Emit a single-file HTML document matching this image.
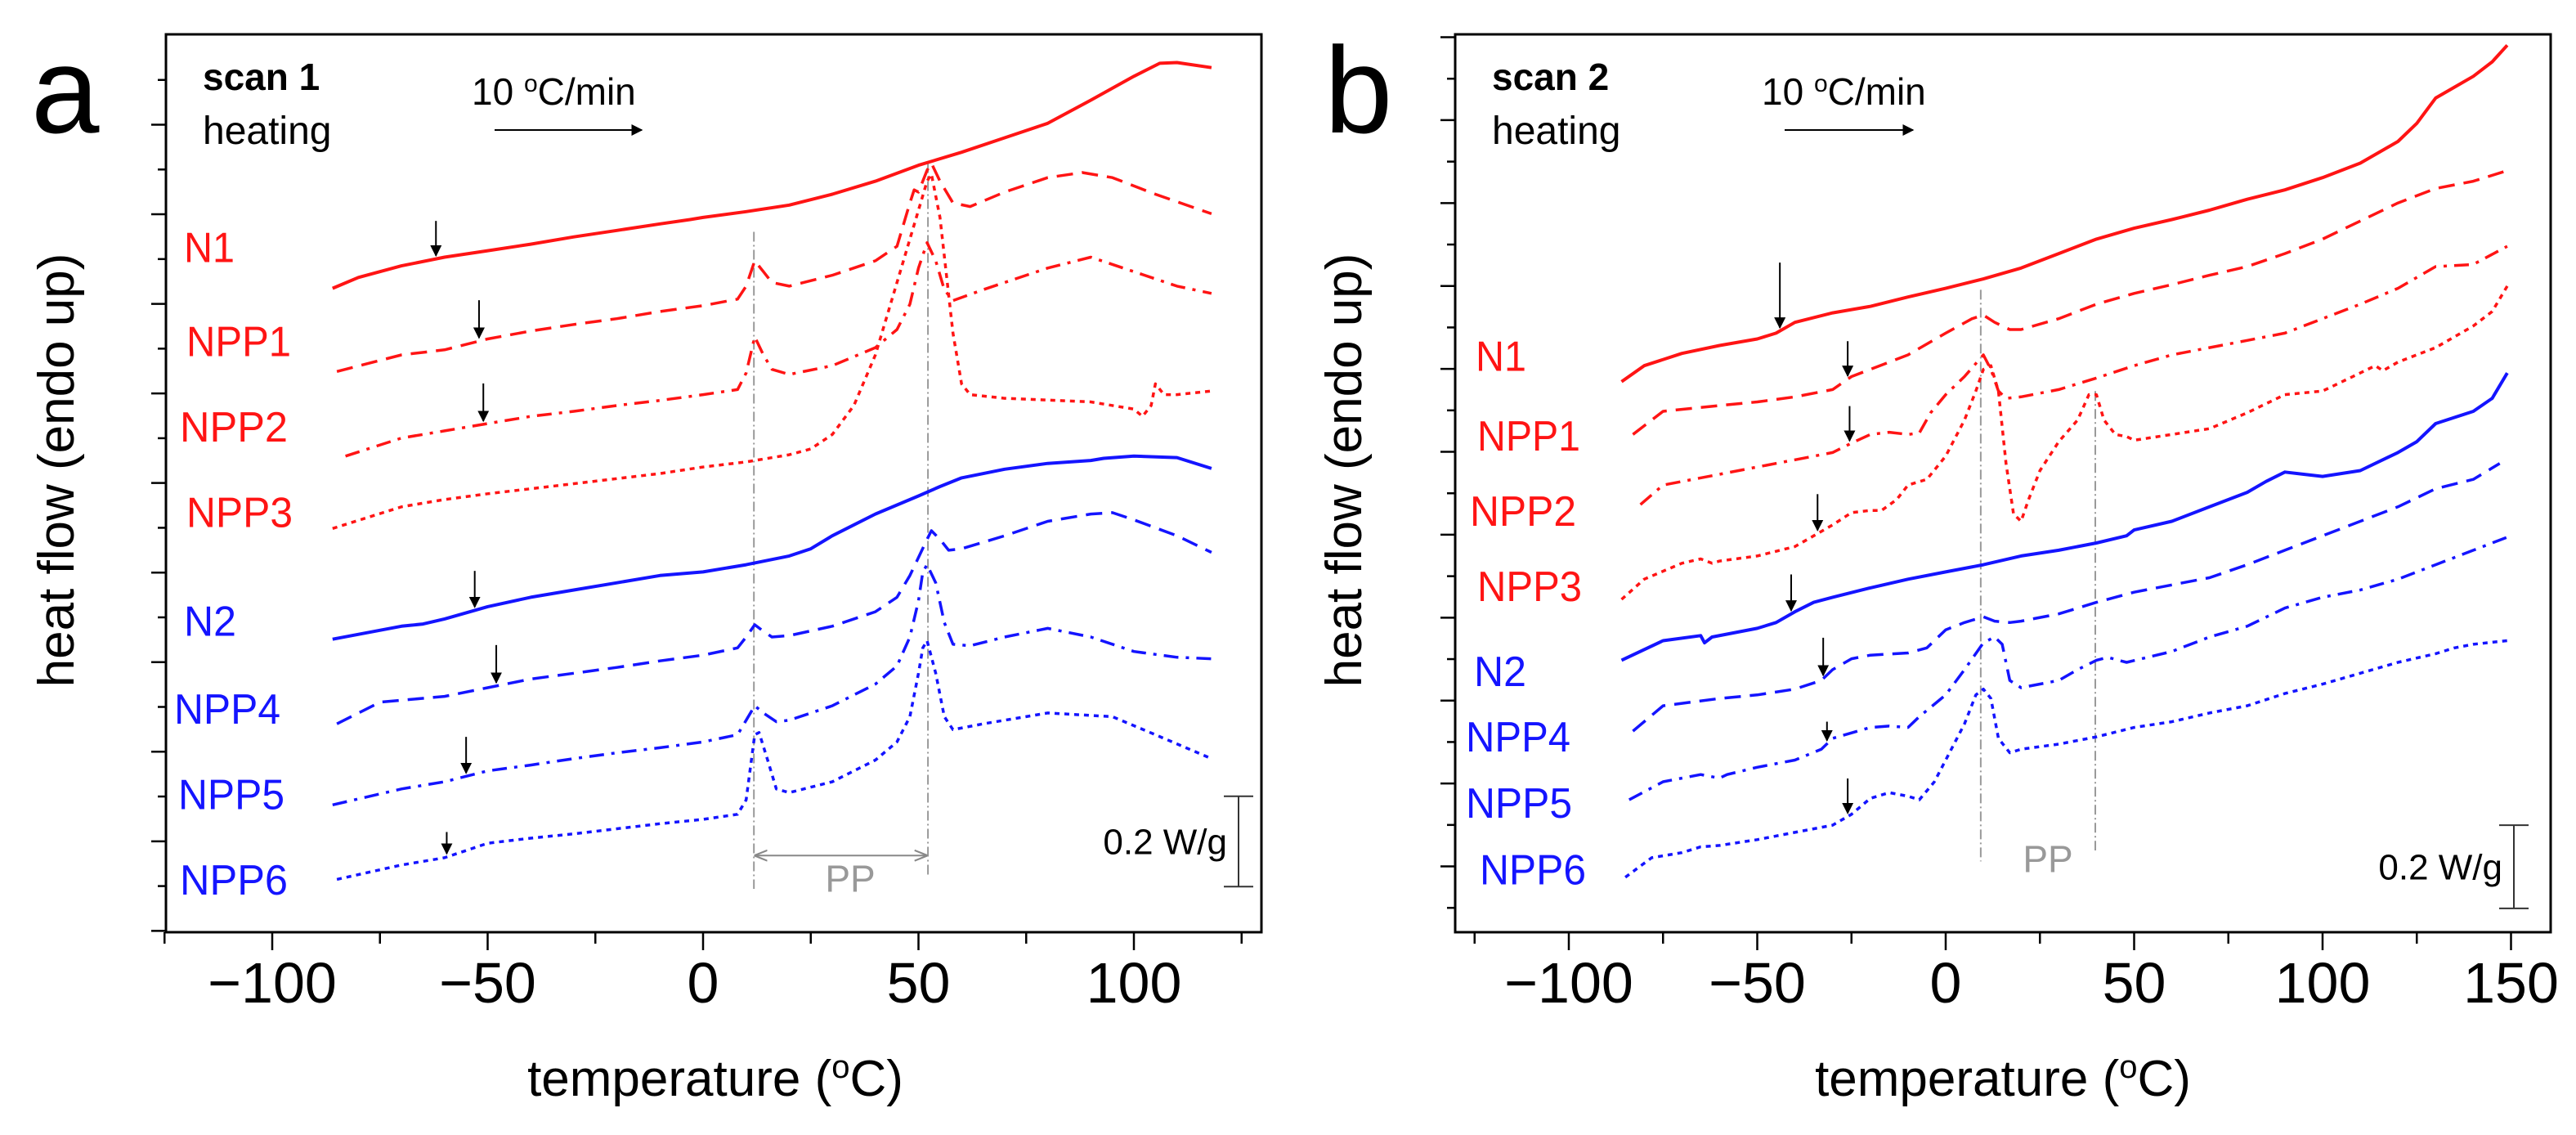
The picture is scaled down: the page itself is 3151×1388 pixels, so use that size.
<!DOCTYPE html>
<html><head><meta charset="utf-8"><style>
html,body{margin:0;padding:0;background:#fff;overflow:hidden;}
svg{display:block;font-family:"Liberation Sans",Arial,sans-serif;}
</style></head><body>
<svg id="chart" width="3151" height="1388" viewBox="0 0 3151 1388" xmlns="http://www.w3.org/2000/svg">
<defs>
<marker id="ah" viewBox="0 0 10 10" refX="9" refY="5" markerWidth="7" markerHeight="7" orient="auto-start-reverse"><path d="M0,0 L10,5 L0,10 z" fill="#000"/></marker>
<marker id="ahg" viewBox="0 0 10 10" refX="9" refY="5" markerWidth="8" markerHeight="8" orient="auto-start-reverse"><path d="M0,1 L10,5 L0,9" fill="none" stroke="#888" stroke-width="1.3"/></marker>
</defs>
<g id="pa"></g>
<g id="pb" transform="translate(1575,0)"></g>
</svg>
<script>
// ---------- Panel a data (scan 1) ----------
const aN1T=[-86,-80,-70,-60,-50,-40,-30,-20,-10,-3,0,10,20,30,40,50,60,70,80,90,100,106,110,118];
const aN1V=[8.90,9.05,9.21,9.33,9.42,9.51,9.61,9.70,9.79,9.85,9.88,9.96,10.05,10.20,10.38,10.60,10.78,10.98,11.18,11.50,11.83,12.01,12.02,11.95];
const aNPP1T=[-85,-70,-60,-50,-40,-30,-20,-10,0,8,10,12,14,16,20,30,40,45,48,49,50,52,53,55,58,62,70,80,88,95,105,118];
const aNPP1V=[7.75,7.98,8.05,8.20,8.31,8.40,8.48,8.58,8.66,8.75,8.93,9.28,9.13,8.98,8.93,9.08,9.28,9.48,10.08,10.26,10.23,10.53,10.63,10.38,10.08,10.03,10.23,10.43,10.50,10.43,10.20,9.93];
const aNPP2T=[-83,-70,-60,-50,-40,-30,-20,-10,0,8,10,12,14,16,20,30,40,45,48,50,52,54,56,58,65,80,90,100,110,118];
const aNPP2V=[6.58,6.83,6.93,7.03,7.13,7.20,7.28,7.35,7.43,7.50,7.73,8.23,7.98,7.78,7.71,7.83,8.08,8.33,8.68,9.18,9.53,9.28,8.88,8.73,8.88,9.18,9.33,9.13,8.93,8.83];
const aNPP3T=[-86,-70,-60,-50,-40,-30,-20,-10,0,10,20,25,30,35,40,45,48,50,52,53,55,58,60,62,70,90,100,102,104,105,107,110,118];
const aNPP3V=[5.58,5.88,5.98,6.06,6.13,6.20,6.27,6.34,6.43,6.50,6.60,6.68,6.88,7.28,7.98,8.98,9.58,9.98,10.38,10.48,9.88,8.28,7.58,7.43,7.38,7.33,7.23,7.13,7.28,7.58,7.43,7.43,7.48];
const aN2T=[-86,-70,-65,-60,-50,-40,-30,-20,-10,0,10,20,25,30,40,50,55,60,70,80,90,93,100,110,118];
const aN2V=[4.05,4.23,4.26,4.33,4.50,4.63,4.73,4.83,4.93,4.98,5.08,5.20,5.30,5.48,5.78,6.03,6.16,6.28,6.40,6.48,6.52,6.55,6.58,6.56,6.41];
const aNPP4T=[-85,-75,-60,-50,-40,-30,-20,-10,0,8,10,12,14,16,20,30,40,45,48,50,52,53,55,57,60,70,80,90,95,100,110,118];
const aNPP4V=[2.88,3.18,3.26,3.38,3.50,3.58,3.66,3.75,3.83,3.93,4.08,4.25,4.16,4.08,4.10,4.23,4.43,4.63,4.93,5.18,5.43,5.55,5.43,5.28,5.30,5.48,5.68,5.78,5.80,5.70,5.48,5.25];
const aNPP5T=[-86,-70,-60,-50,-40,-30,-20,-10,0,8,10,12,14,17,20,30,40,45,48,50,51,52,54,56,58,62,70,80,90,100,110,118];
const aNPP5V=[1.76,1.98,2.08,2.23,2.31,2.40,2.48,2.55,2.63,2.73,2.93,3.13,3.03,2.91,2.93,3.13,3.43,3.68,4.08,4.58,4.98,5.08,4.83,4.28,3.98,3.96,4.08,4.20,4.08,3.88,3.80,3.78];
const aNPP6T=[-85,-70,-60,-55,-50,-40,-30,-20,-10,0,8,10,12,13,15,17,20,30,40,45,48,50,51,52,54,56,58,65,80,95,105,118];
const aNPP6V=[0.73,0.93,1.03,1.13,1.23,1.30,1.36,1.43,1.50,1.56,1.63,1.83,2.73,2.76,2.38,1.98,1.93,2.08,2.38,2.63,2.98,3.58,3.93,4.03,3.58,2.98,2.80,2.88,3.03,2.98,2.73,2.40];
// ---------- Panel b data (scan 2) ----------
const bN1T=[-86,-80,-70,-60,-50,-45,-40,-30,-20,-10,0,10,20,30,40,50,60,70,80,90,100,110,120,125,130,135,140,145,149];
const bN1V=[7.61,7.83,8.00,8.11,8.20,8.28,8.43,8.56,8.65,8.78,8.90,9.03,9.18,9.38,9.58,9.73,9.85,9.98,10.13,10.26,10.43,10.63,10.93,11.18,11.53,11.68,11.83,12.03,12.26];
const bNPP1T=[-83,-75,-60,-50,-40,-30,-25,-20,-10,0,7,10,13,17,20,30,40,50,60,70,80,90,100,110,120,130,140,148];
const bNPP1V=[6.88,7.20,7.28,7.33,7.40,7.50,7.68,7.78,7.98,8.28,8.48,8.53,8.43,8.33,8.33,8.48,8.68,8.83,8.95,9.08,9.20,9.38,9.58,9.83,10.08,10.28,10.38,10.51];
const bNPP2T=[-81,-75,-60,-50,-40,-30,-25,-20,-15,-10,-7,-4,0,5,10,12,14,16,20,30,40,50,60,70,80,90,100,110,120,130,140,149];
const bNPP2V=[5.91,6.18,6.33,6.43,6.53,6.63,6.76,6.88,6.91,6.88,6.90,7.18,7.43,7.68,7.98,7.78,7.48,7.38,7.40,7.50,7.66,7.83,7.98,8.08,8.18,8.28,8.48,8.68,8.90,9.20,9.23,9.48];
const bNPP3T=[-86,-80,-70,-65,-62,-60,-50,-40,-35,-30,-25,-20,-17,-13,-10,-5,0,5,8,10,12,14,16,18,20,22,25,30,35,38,40,42,45,48,50,60,70,80,90,100,110,114,116,120,130,140,145,149];
const bNPP3V=[4.60,4.88,5.10,5.16,5.10,5.13,5.20,5.33,5.48,5.63,5.80,5.83,5.83,5.98,6.18,6.26,6.58,7.08,7.48,7.78,7.83,7.48,6.48,5.78,5.68,5.98,6.38,6.78,7.08,7.43,7.43,7.08,6.88,6.85,6.80,6.88,6.96,7.18,7.43,7.48,7.73,7.83,7.76,7.88,8.08,8.38,8.58,8.93];
const bN2T=[-86,-75,-65,-64,-62,-50,-45,-40,-35,-30,-20,-10,0,10,20,30,40,48,50,60,70,80,85,90,95,100,110,120,125,130,140,145,149];
const bN2V=[3.76,4.03,4.10,4.00,4.08,4.20,4.28,4.43,4.56,4.63,4.76,4.88,4.98,5.08,5.20,5.28,5.38,5.48,5.56,5.68,5.88,6.08,6.23,6.36,6.33,6.30,6.38,6.63,6.78,7.03,7.20,7.38,7.73];
const bNPP4T=[-83,-75,-60,-50,-40,-33,-30,-25,-20,-10,-5,0,5,10,13,17,20,30,40,50,60,70,80,90,100,110,120,130,140,147];
const bNPP4V=[2.78,3.13,3.23,3.28,3.36,3.48,3.63,3.78,3.83,3.86,3.93,4.18,4.28,4.36,4.30,4.28,4.30,4.40,4.56,4.70,4.80,4.90,5.08,5.28,5.48,5.68,5.88,6.13,6.26,6.48];
const bNPP5T=[-84,-75,-65,-60,-58,-50,-40,-33,-30,-20,-15,-10,-7,0,5,10,13,15,17,20,30,35,40,43,48,60,70,80,90,100,110,120,130,140,149];
const bNPP5V=[1.83,2.08,2.18,2.13,2.18,2.28,2.38,2.53,2.68,2.83,2.85,2.83,2.98,3.28,3.63,4.00,4.08,3.98,3.48,3.38,3.48,3.63,3.76,3.80,3.73,3.88,4.08,4.23,4.48,4.63,4.73,4.88,5.08,5.28,5.46];
const bNPP6T=[-85,-78,-70,-65,-60,-50,-40,-30,-25,-20,-15,-10,-7,-3,0,5,8,10,12,14,17,20,30,40,50,60,70,80,90,100,110,120,130,135,140,149];
const bNPP6V=[0.76,1.03,1.10,1.18,1.20,1.28,1.38,1.48,1.63,1.85,1.93,1.88,1.83,2.08,2.38,2.88,3.28,3.36,3.23,2.68,2.48,2.53,2.60,2.70,2.83,2.91,3.03,3.13,3.30,3.43,3.58,3.73,3.85,3.93,3.98,4.03];
// tick labels
const xTickLabelsA=[-100,-50,0,50,100];
const xTickLabelsB=[-100,-50,0,50,100,150];
const sampleNames=["N1","NPP1","NPP2","NPP3","N2","NPP4","NPP5","NPP6"];
// glass-transition arrow temperatures and PP melting lines
const aArrowT=[-62,-52,-51,-53,-48,-55,-59.5];
const bArrowT=[-44,-26,-25.5,-34,-41,-32.5,-31.5,-26];
const aPPT=[11.8,52.2];
const bPPT=[9.3,39.7];

const NS="http://www.w3.org/2000/svg";
const RED="#ff1414", BLUE="#1414ff";
const DASH={solid:null,dash:"20,11",dashdot:"18,9,4,9",dot:"6,6"};
const KY=0.8848;
function Y(z){return 42+KY*(z-47);}          // layout helper (vertical calibration)
function mk(parent,tag,attrs){const e=document.createElementNS(NS,tag);for(const k in attrs)e.setAttribute(k,attrs[k]);parent.appendChild(e);return e;}
function yv(v){return Y(1288-100*v);}        // heat-flow axis

function panel(g,cfg){
  const xs=cfg.xs;
  const fr=mk(g,"rect",{x:cfg.L,y:42,width:cfg.R-cfg.L,height:1098,fill:"none",stroke:"#000","stroke-width":3});
  
  
  for(let i=0;i<cfg.ly.length;i++){
    const y=Y(cfg.ly[i]);const long=(i%2===cfg.longPar);
    const t=mk(g,"line",{x1:cfg.L-(long?18:10),x2:cfg.L,y1:y,y2:y,stroke:"#000","stroke-width":2.5});
    
    
  }
  for(let T=-125;T<=cfg.maxTick;T+=25){
    const major=(T%50===0);
    const t=mk(g,"line",{x1:xs(T),x2:xs(T),y1:1140,y2:1140+(major?22:14),stroke:"#000","stroke-width":2.5});
    
    
  }
  for(const v of cfg.labels){
    const t=mk(g,"text",{x:xs(v),y:1226,"font-size":70,"text-anchor":"middle"});
    t.textContent=(v<0?"\u2212"+(-v):String(v));
    
    
  }
  const xt=mk(g,"text",{x:875,y:1340,"font-size":62,"text-anchor":"middle"});
  xt.innerHTML='temperature (<tspan baseline-shift="super" font-size="40">o</tspan>C)';
  
  
  const yt=mk(g,"text",{x:0,y:0,"font-size":62,"text-anchor":"middle",transform:"translate(90,575) rotate(-90)"});
  yt.textContent="heat flow (endo up)";
  
  
  const pl=mk(g,"text",{x:cfg.letterX,y:162,"font-size":150});
  pl.textContent=cfg.letter;
  
  
  const s1=mk(g,"text",{x:cfg.hx,y:110,"font-size":46,"font-weight":"bold"});
  s1.textContent=cfg.scan;
  
  
  const s2=mk(g,"text",{x:cfg.hx,y:176,"font-size":48});
  s2.textContent="heating";
  
  
  const r=mk(g,"text",{x:cfg.rx,y:128,"font-size":46});
  r.innerHTML='10 <tspan baseline-shift="super" font-size="30">o</tspan>C/min';
  
  
  const ra=mk(g,"line",{x1:cfg.rx+28,x2:cfg.rx+cfg.rlen,y1:159,y2:159,stroke:"#000","stroke-width":2,"marker-end":"url(#ah)"});
  
  
  cfg.pp.forEach((T,i)=>{
    const l=mk(g,"line",{x1:xs(T),x2:xs(T),y1:Y(cfg.ppTop[i]),y2:Y(cfg.ppBot[i]),stroke:"#999","stroke-width":2,"stroke-dasharray":"12,4,2,4"});
    
    
  });
  if(cfg.ppArrow){
    const a=mk(g,"line",{x1:xs(cfg.pp[0])+2,x2:xs(cfg.pp[1])-2,y1:Y(1182),y2:Y(1182),stroke:"#888","stroke-width":2,"marker-start":"url(#ahg)","marker-end":"url(#ahg)"});
    
    
  }
  const pp=mk(g,"text",{x:cfg.ppTx,y:Y(cfg.ppTy),"font-size":46,fill:"#999","text-anchor":"middle"});
  pp.textContent="PP";
  
  
  const b0=Y(cfg.sb0),b1=Y(cfg.sb1);
  const sb=mk(g,"path",{d:`M${cfg.sbx-18},${b0}H${cfg.sbx+18}M${cfg.sbx},${b0}V${b1}M${cfg.sbx-18},${b1}H${cfg.sbx+18}`,stroke:"#333","stroke-width":2,fill:"none"});
  
  
  const st=mk(g,"text",{x:cfg.sbx-14,y:Y(cfg.sbty),"font-size":44,"text-anchor":"end"});
  st.textContent="0.2 W/g";
  
  
  cfg.series.forEach((s,i)=>{
    let d="";
    for(let k=0;k<s.T.length;k++) d+=(k?"L":"M")+xs(s.T[k]).toFixed(1)+","+yv(s.V[k]).toFixed(1);
    const p=mk(g,"path",{d:d,fill:"none",stroke:s.c,"stroke-width":s.st==="solid"?4:3.5,"stroke-linejoin":"round"});
    if(DASH[s.st])p.setAttribute("stroke-dasharray",DASH[s.st]);
    
    
    const lb=mk(g,"text",{x:cfg.lab[i][0],y:Y(cfg.lab[i][1]),"font-size":52,fill:s.c,textLength:cfg.lab[i][2],lengthAdjust:"spacingAndGlyphs"});
    lb.textContent=sampleNames[i];
    
    
  });
  cfg.arrows.forEach((T,i)=>{
    const s=cfg.series[cfg.arrowIdx[i]];
    let v=s.V[0];
    for(let k=0;k<s.T.length-1;k++){if(T>=s.T[k]&&T<=s.T[k+1]){v=s.V[k]+(s.V[k+1]-s.V[k])*(T-s.T[k])/(s.T[k+1]-s.T[k]);break;}}
    const y2=yv(v)-4;
    const a=mk(g,"line",{x1:xs(T),x2:xs(T),y1:y2-KY*cfg.arrLen[i],y2:y2,stroke:"#000","stroke-width":2,"marker-end":"url(#ah)"});
    
    
  });
}

const seriesA=[
 {T:aN1T,V:aN1V,c:RED,st:"solid"},{T:aNPP1T,V:aNPP1V,c:RED,st:"dash"},{T:aNPP2T,V:aNPP2V,c:RED,st:"dashdot"},{T:aNPP3T,V:aNPP3V,c:RED,st:"dot"},
 {T:aN2T,V:aN2V,c:BLUE,st:"solid"},{T:aNPP4T,V:aNPP4V,c:BLUE,st:"dash"},{T:aNPP5T,V:aNPP5V,c:BLUE,st:"dashdot"},{T:aNPP6T,V:aNPP6V,c:BLUE,st:"dot"}];
const seriesB=[
 {T:bN1T,V:bN1V,c:RED,st:"solid"},{T:bNPP1T,V:bNPP1V,c:RED,st:"dash"},{T:bNPP2T,V:bNPP2V,c:RED,st:"dashdot"},{T:bNPP3T,V:bNPP3V,c:RED,st:"dot"},
 {T:bN2T,V:bN2V,c:BLUE,st:"solid"},{T:bNPP4T,V:bNPP4V,c:BLUE,st:"dash"},{T:bNPP5T,V:bNPP5V,c:BLUE,st:"dashdot"},{T:bNPP6T,V:bNPP6V,c:BLUE,st:"dot"}];

const lyA=[];for(let y=110;y<1288;y+=61.9)lyA.push(y);
const lyB=[];for(let y=51;y<1288;y+=57.3)lyB.push(y);

panel(document.getElementById("pa"),{
  xs:T=>860+5.27*T,L:203,R:1543,ly:lyA,longPar:1,maxTick:125,labels:xTickLabelsA,
  letter:"a",letterX:38,scan:"scan 1",hx:248,rx:577,rlen:208,
  pp:aPPT,ppTop:[320,225],ppBot:[1228,1212],ppArrow:true,ppTx:1040,ppTy:1232,
  sbx:1515,sb0:1100,sb1:1225,sbty:1180,
  series:seriesA,
  lab:[[225,362,62],[228,492,128],[220,610,132],[228,728,130],[225,878,64],[213,1000,130],[218,1118,130],[220,1236,132]],
  arrows:aArrowT,arrowIdx:[0,1,2,4,5,6,7],arrLen:[48,52,52,50,52,50,30]
});
panel(document.getElementById("pb"),{
  xs:T=>805+4.61*T,L:205,R:1545,ly:lyB,longPar:0,maxTick:150,labels:xTickLabelsB,
  letter:"b",letterX:45,scan:"scan 2",hx:250,rx:580,rlen:185,
  pp:bPPT,ppTop:[400,540],ppBot:[1190,1175],ppArrow:false,ppTx:930,ppTy:1205,
  sbx:1500,sb0:1140,sb1:1255,sbty:1215,
  series:seriesB,
  lab:[[230,512,62],[232,622,126],[223,726,130],[232,830,128],[228,948,64],[218,1038,128],[218,1130,130],[235,1222,130]],
  arrows:bArrowT,arrowIdx:[0,1,2,3,4,5,6,7],arrLen:[90,48,48,50,50,52,26,48]
});
</script>
</body></html>
